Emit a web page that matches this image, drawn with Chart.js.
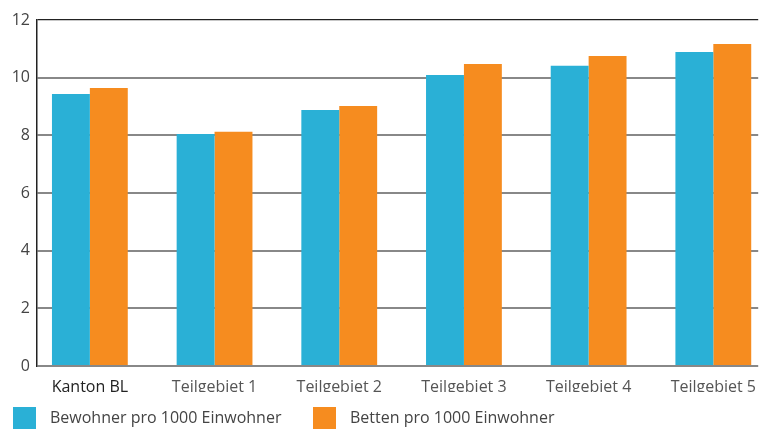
<!DOCTYPE html>
<html>
<head>
<meta charset="utf-8">
<script src="https://cdn.jsdelivr.net/npm/chart.js@4"></script>
<style>
  html, body { margin: 0; padding: 0; background: #fff; }
  #wrap { position: relative; width: 760px; height: 432px; overflow: hidden; }
  .legend { position: absolute; top: 405px; left: 0; width: 760px; height: 27px;
    font-family: "Open Sans", sans-serif; font-size: 16px; color: #444; }
  .legend span.box { position: absolute; top: 2px; width: 23px; height: 22px; }
  .legend span.txt { position: absolute; top: 1px; white-space: nowrap; }
</style>
</head>
<body>
<div id="wrap">
  <canvas id="chart" width="760" height="432"></canvas>
  <div class="legend" id="legend"></div>
</div>
<script>
const categories = ['Kanton BL', 'Teilgebiet 1', 'Teilgebiet 2', 'Teilgebiet 3', 'Teilgebiet 4', 'Teilgebiet 5']
const bewohner = [9.43, 8.05, 8.88, 10.09, 10.41, 10.89]
const betten = [9.64, 8.12, 9.02, 10.47, 10.75, 11.17]
const seriesNames = ['Bewohner pro 1000 Einwohner', 'Betten pro 1000 Einwohner']
const colors = ['#2AB0D6', '#F68C1F']

const font = { family: '"Open Sans", sans-serif', size: 16 }

const chart = new Chart(document.getElementById('chart'), {
  type: 'bar',
  data: {
    datasets: [
      { label: seriesNames[0], data: bewohner.map((v, i) => ({ x: i, y: v })), backgroundColor: colors[0] },
      { label: seriesNames[1], data: betten.map((v, i) => ({ x: i, y: v })), backgroundColor: colors[1] },
    ],
  },
  options: {
    responsive: false,
    animation: false,
    categoryPercentage: 0.608,
    barPercentage: 1,
    layout: { padding: { top: 20, right: 0, bottom: 40, left: 0 } },
    plugins: { legend: { display: false }, tooltip: { enabled: false } },
    scales: {
      x: {
        type: 'linear',
        offset: false,
        min: -0.424,
        max: 5.36,
        afterBuildTicks: scale => {
          scale.ticks = categories.map((c, i) => ({ value: i }))
        },
        afterFit: scale => { scale.height = 26 },
        grid: { display: false },
        border: { display: false },
        ticks: {
          font,
          padding: 4,
          color: ctx => (ctx.index === 0 ? '#222' : '#555'),
          callback: v => categories[v],
        },
      },
      y: {
        min: 0,
        max: 12,
        afterFit: scale => { scale.width = 37 },
        border: { display: true, color: '#222', width: 1.5 },
        grid: {
          drawTicks: false,
          color: ctx => (ctx.tick.value === 12 ? '#222' : '#888'),
          lineWidth: ctx => (ctx.tick.value === 12 ? 1.2 : 2),
        },
        ticks: { font, color: '#444', stepSize: 2, padding: 7 },
      },
    },
  },
})

// legend built from the dataset labels/colours
const legend = document.getElementById('legend')
const legendX = [13, 313]
seriesNames.forEach((name, i) => {
  const box = document.createElement('span')
  box.className = 'box'
  box.style.left = legendX[i] + 'px'
  box.style.background = colors[i]
  const txt = document.createElement('span')
  txt.className = 'txt'
  txt.style.left = legendX[i] + 37 + 'px'
  txt.textContent = name
  legend.appendChild(box)
  legend.appendChild(txt)
})
</script>
</body>
</html>
